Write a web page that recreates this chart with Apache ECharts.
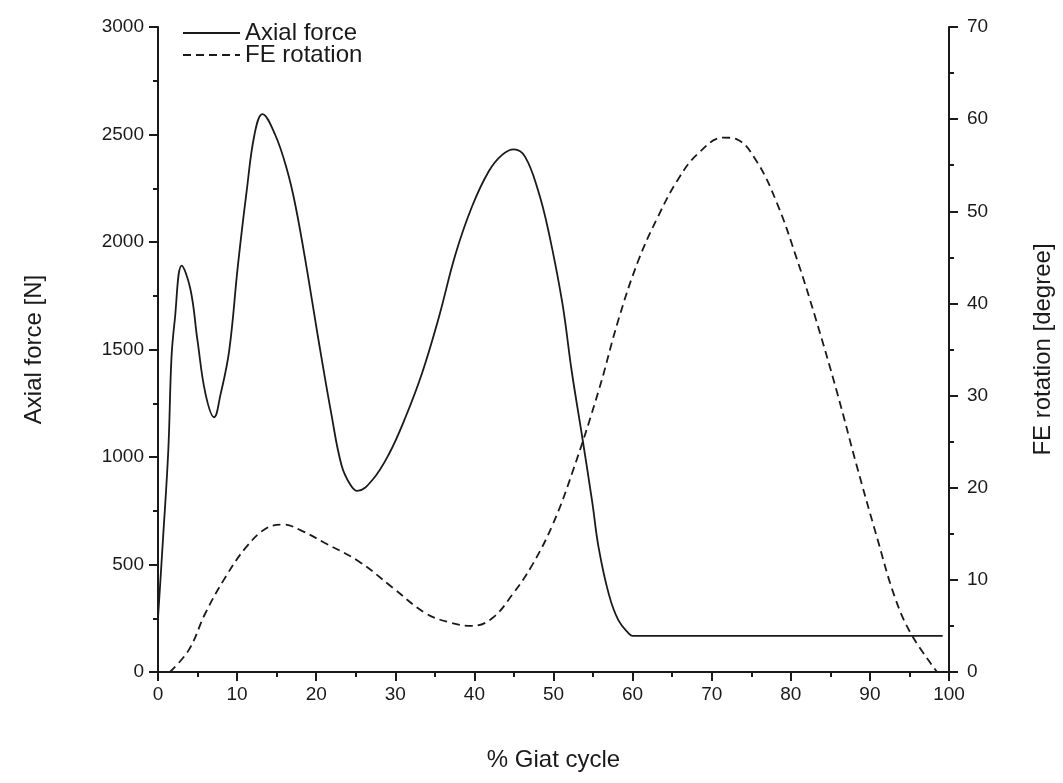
<!DOCTYPE html>
<html>
<head>
<meta charset="utf-8">
<script src="https://cdn.jsdelivr.net/npm/echarts@6/dist/echarts.min.js"></script>
<style>
  html, body { margin: 0; padding: 0; background: #fff; }
  #chart { width: 1063px; height: 783px; }
</style>
</head>
<body>
<div id="chart"></div>
<script>
// axial force [N] vs % gait cycle
const forceX = [0, 0.6, 1.3, 1.7, 2.1, 3.0, 4.1, 5.0, 6.0, 7.1, 7.9, 9.0, 10.1, 11.2, 12.2, 13.2, 14.8, 16.3, 17.4, 18.9, 20.2, 21.9, 23.2, 24.3, 25.2, 27.1, 29.2, 31.3, 33.4, 35.5, 37.6, 39.7, 41.8, 43.5, 45.0, 46.4, 48.1, 49.4, 51.1, 52.3, 53.6, 54.9, 55.7, 57.0, 58.2, 59.5, 60.0, 61.0, 99.2];
const forceY = [250, 600, 1030, 1460, 1630, 1890, 1780, 1540, 1295, 1185, 1290, 1495, 1890, 2234, 2500, 2595, 2500, 2337, 2165, 1856, 1564, 1203, 962, 872, 842, 893, 1014, 1186, 1392, 1649, 1942, 2165, 2328, 2405, 2431, 2397, 2234, 2045, 1720, 1400, 1100, 790, 580, 361, 241, 180, 168, 168, 168];

// FE rotation [degree]
const rotX = [1.5, 3.9, 6.0, 8.6, 11.2, 13.7, 15.9, 18.0, 21.1, 25.4, 29.6, 33.8, 36.8, 39.7, 42.2, 44.8, 47.3, 49.9, 52.4, 55.7, 58.2, 60.7, 63.2, 65.7, 68.2, 71.5, 73.2, 75.7, 78.2, 80.7, 83.2, 85.8, 88.3, 90.8, 93.2, 95.3, 98.5];
const rotY = [0, 2.4, 6.4, 10.4, 13.6, 15.6, 16.0, 15.4, 14.0, 12.0, 9.2, 6.4, 5.4, 5.0, 5.8, 8.4, 11.6, 16.0, 21.7, 30.5, 38.2, 44.6, 49.4, 53.4, 56.2, 58.0, 57.8, 55.4, 51.0, 45.0, 38.2, 30.5, 22.5, 14.9, 8.0, 4.0, 0];

const font = '"Liberation Sans", Arial, sans-serif';
const ink = '#1a1a1a';

const pairs = (xs, ys) => xs.map((x, i) => [x, ys[i]]);

const axisCommon = {
  axisLine: { show: true, lineStyle: { color: ink, width: 2 } },
  axisTick: { show: true, inside: false, length: 9, lineStyle: { color: ink, width: 2 } },
  minorTick: { show: true, splitNumber: 2, length: 5, lineStyle: { color: ink, width: 2 } },
  splitLine: { show: false },
  axisLabel: { color: ink, fontFamily: font, fontSize: 19, formatter: v => String(v) },
  nameTextStyle: { color: ink, fontFamily: font, fontSize: 24 }
};

const chart = echarts.init(document.getElementById('chart'), null, { renderer: 'canvas' });
chart.setOption({
  animation: false,
  backgroundColor: '#fff',
  grid: { left: 158, right: 112, top: 27, bottom: 111 },
  legend: {
    orient: 'vertical',
    left: 177,
    top: 16,
    itemWidth: 57,
    itemHeight: 12,
    itemGap: -2,
    itemStyle: { opacity: 0 },
    textStyle: { color: ink, fontFamily: font, fontSize: 24, lineHeight: 24 },
    data: ['Axial force', 'FE rotation']
  },
  xAxis: {
    type: 'value',
    min: 0, max: 100, interval: 10,
    name: '% Giat cycle',
    nameLocation: 'middle',
    nameGap: 76,
    ...axisCommon,
    axisLabel: { ...axisCommon.axisLabel, margin: 13 }
  },
  yAxis: [{
    type: 'value',
    position: 'left',
    min: 0, max: 3000, interval: 500,
    name: 'Axial force [N]',
    nameLocation: 'middle',
    nameRotate: 90,
    nameGap: 112,
    ...axisCommon,
    axisLabel: { ...axisCommon.axisLabel, margin: 14 }
  }, {
    type: 'value',
    position: 'right',
    min: 0, max: 70, interval: 10,
    name: 'FE rotation [degree]',
    nameLocation: 'middle',
    nameRotate: 90,
    nameGap: 82,
    ...axisCommon,
    axisLabel: { ...axisCommon.axisLabel, margin: 18 }
  }],
  series: [{
    name: 'Axial force',
    type: 'line',
    yAxisIndex: 0,
    data: pairs(forceX, forceY),
    showSymbol: false,
    symbol: 'none',
    smooth: 0.4,
    lineStyle: { color: ink, width: 1.8, type: 'solid' },
    itemStyle: { color: ink }
  }, {
    name: 'FE rotation',
    type: 'line',
    yAxisIndex: 1,
    data: pairs(rotX, rotY),
    showSymbol: false,
    symbol: 'none',
    smooth: 0.4,
    lineStyle: { color: ink, width: 1.8, type: [8, 5] },
    itemStyle: { color: ink }
  }]
});
</script>
</body>
</html>
